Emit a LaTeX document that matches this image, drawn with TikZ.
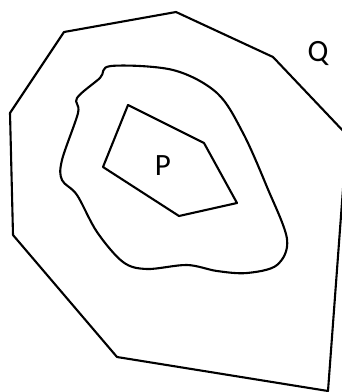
\documentclass[tikz,border=0pt]{standalone}
\usepackage{fontspec}
\setmainfont{Carlito}
\begin{document}
\begin{tikzpicture}[x=1pt,y=-1pt,
  shape line/.style={line width=2.1pt,line join=round,black},
  lbl/.style={font=\fontsize{31}{33}\selectfont,inner sep=0pt}]
\useasboundingbox (0,0) rectangle (342,392);
\clip (0,0) rectangle (342,392);
% outer polygon Q
\draw[shape line] (64,32) -- (176,12) -- (273,57) -- (347,135) -- (328,391) -- (117,357) -- (13,235) -- (10,113) -- cycle;
% blob
\draw[shape line] plot[smooth cycle,tension=0.55] coordinates {
 (111,66) (173,70) (217,93) (243,133) (267,187) (287,239) (277,265) (247,273)
 (217,271) (187,265) (147,269) (123,262) (97,232) (77,195) (62,180) (62,160)
 (78,113) (77,98) (100,78)};
% inner polygon P
\draw[shape line] (128,105) -- (204,143) -- (237,203) -- (179,216) -- (103,167) -- cycle;
\node[lbl] (P) at (163,166) {P};
\node[lbl] (Q) at (318,53) {Q};
\end{tikzpicture}
\end{document}
